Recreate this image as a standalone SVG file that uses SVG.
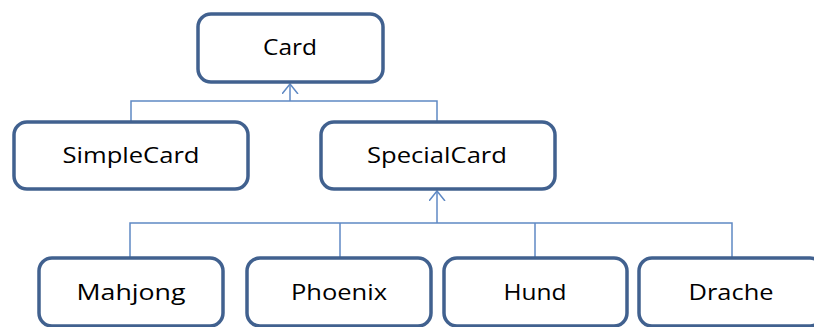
<svg xmlns="http://www.w3.org/2000/svg" width="814" height="327" viewBox="0 0 814 327">
<style>
.box{fill:#fff;stroke:#41618f;stroke-width:3.5}
.lbl{font-family:"Open Sans","Liberation Sans",sans-serif;font-size:21px;fill:#000;text-anchor:middle}
.conn{fill:none;stroke:#5f89c4;stroke-width:1.5}
</style>
<defs>
<marker id="arr" markerWidth="12" markerHeight="18" refX="10" refY="8" orient="auto" markerUnits="userSpaceOnUse" viewBox="0 0 12 18">
<path d="M0,0 L10,8 L0,16" fill="none" stroke="#5f89c4" stroke-width="1.5"/>
</marker>
</defs>
<rect width="814" height="327" fill="#fff"/>
<g id="connectors">
<polyline class="conn" points="131,121 131,101 437,101 437,121"/>
<line class="conn" x1="290" y1="101" x2="290" y2="84" marker-end="url(#arr)"/>
<polyline class="conn" points="130,257 130,223 732,223 732,257"/>
<line class="conn" x1="340" y1="223" x2="340" y2="257"/>
<line class="conn" x1="535" y1="223" x2="535" y2="257"/>
<line class="conn" x1="437" y1="223" x2="437" y2="191" marker-end="url(#arr)"/>
</g>
<g id="card"><rect class="box" x="198" y="14" width="185" height="68" rx="13"/><text class="lbl" x="290" y="55" textLength="54" lengthAdjust="spacingAndGlyphs">Card</text></g>
<g id="simplecard"><rect class="box" x="14" y="122" width="234" height="67" rx="13"/><text class="lbl" x="131" y="163" textLength="137" lengthAdjust="spacingAndGlyphs">SimpleCard</text></g>
<g id="specialcard"><rect class="box" x="321" y="122" width="234" height="67" rx="13"/><text class="lbl" x="437" y="163" textLength="140" lengthAdjust="spacingAndGlyphs">SpecialCard</text></g>
<g id="mahjong"><rect class="box" x="39" y="258" width="184" height="68" rx="13"/><text class="lbl" x="131" y="300" textLength="109" lengthAdjust="spacingAndGlyphs">Mahjong</text></g>
<g id="phoenix"><rect class="box" x="247" y="258" width="184" height="68" rx="13"/><text class="lbl" x="339" y="300" textLength="96" lengthAdjust="spacingAndGlyphs">Phoenix</text></g>
<g id="hund"><rect class="box" x="444" y="258" width="183" height="68" rx="13"/><text class="lbl" x="535" y="300" textLength="63" lengthAdjust="spacingAndGlyphs">Hund</text></g>
<g id="drache"><rect class="box" x="639" y="258" width="184" height="68" rx="13"/><text class="lbl" x="731" y="300" textLength="85" lengthAdjust="spacingAndGlyphs">Drache</text></g>
</svg>
